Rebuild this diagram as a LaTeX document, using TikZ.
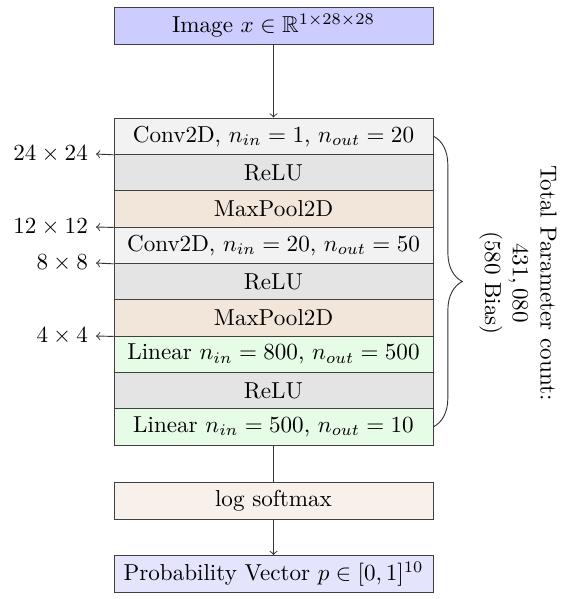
\documentclass[tikz,border=0pt]{standalone}
\usepackage{amssymb}
\usetikzlibrary{decorations.pathreplacing}
\definecolor{imgc}{RGB}{204,204,255}
\definecolor{probc}{RGB}{228,228,252}
\definecolor{convc}{RGB}{242,242,242}
\definecolor{reluc}{RGB}{228,228,228}
\definecolor{poolc}{RGB}{242,230,218}
\definecolor{linc}{RGB}{230,252,230}
\definecolor{softc}{RGB}{248,240,234}
\tikzset{
  layer/.style={draw=black!75, minimum width=138.1pt, minimum height=15.73pt, inner sep=0pt, anchor=center},
  endbox/.style={draw=black!75, minimum width=138.1pt, minimum height=16pt, inner sep=0pt, anchor=center},
  dimlabel/.style={anchor=east},
  conn/.style={draw=black!80},
}
\begin{document}
\begin{tikzpicture}[x=0.433pt, y=-0.433pt]
\useasboundingbox (0,0) rectangle (561,599);
\node[endbox, fill=imgc] (img) at (273.5,25.5) {Image $x\in\mathbb{R}^{1\times28\times28}$};
\node[layer, fill=convc] (c1) at (273.5,136.2) {Conv2D, $n_{in}=1$, $n_{out}=20$};
\node[layer, fill=reluc] (r1) at (273.5,172.5) {ReLU};
\node[layer, fill=poolc] (p1) at (273.5,208.8) {MaxPool2D};
\node[layer, fill=convc] (c2) at (273.5,245.2) {Conv2D, $n_{in}=20$, $n_{out}=50$};
\node[layer, fill=reluc] (r2) at (273.5,281.5) {ReLU};
\node[layer, fill=poolc] (p2) at (273.5,317.8) {MaxPool2D};
\node[layer, fill=linc] (l1) at (273.5,354.2) {Linear $n_{in}=800$, $n_{out}=500$};
\node[layer, fill=reluc] (r3) at (273.5,390.5) {ReLU};
\node[layer, fill=linc] (l2) at (273.5,426.8) {Linear $n_{in}=500$, $n_{out}=10$};
\node[endbox, fill=softc] (sm) at (273.5,501) {log softmax};
\node[endbox, fill=probc] (pr) at (273.5,574) {Probability Vector $p\in[0,1]^{10}$};

\draw[conn,->] (img) -- (c1);
\draw[conn] (l2) -- (sm);
\draw[conn,->] (sm) -- (pr);

\node[dimlabel] (d1) at (96,154) {$24\times24$};
\node[dimlabel] (d2) at (96,227) {$12\times12$};
\node[dimlabel] (d3) at (96,263) {$8\times8$};
\node[dimlabel] (d4) at (96,336) {$4\times4$};
\draw[conn,->] (c1.south west) -- (d1.east);
\draw[conn,->] (p1.south west) -- (d2.east);
\draw[conn,->] (c2.south west) -- (d3.east);
\draw[conn,->] (p2.south west) -- (d4.east);

\draw[conn, decorate, decoration={brace, amplitude=12.5pt}] (c1.east) -- (l2.east) coordinate[midway] (bm);
\node[rotate=-90, align=center, inner sep=0pt] (tot) at (518,283) {Total Parameter count:\\$431,080$\\(580 Bias)};
\end{tikzpicture}
\end{document}
